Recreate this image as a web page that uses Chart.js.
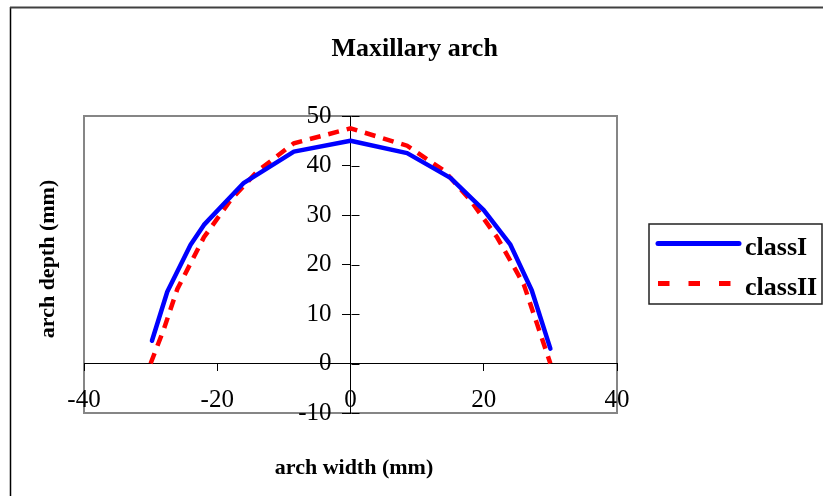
<!DOCTYPE html>
<html><head><meta charset="utf-8">
<script src="https://cdn.jsdelivr.net/npm/chart.js@4"></script>
<style>html,body{margin:0;padding:0;background:#fff}#wrap{width:823px;height:496px;position:relative}canvas{display:block}</style>
</head><body><div id="wrap"><canvas id="c" width="823" height="496"></canvas></div>
<script>
const chartTitle = 'Maxillary arch';
const xAxisTitle = 'arch width (mm)';
const yAxisTitle = 'arch depth (mm)';
const seriesNames = ['classI', 'classII'];
const classIWidth = [-29.8, -27.5, -24, -22, -16, -8.5, 0, 8.5, 15, 20, 24, 27.2, 30];
const classIDepth = [4.6, 14.5, 24, 28, 36.5, 42.8, 45, 42.5, 37.5, 31, 24, 14.8, 3];
const classIIWidth = [-30, -28, -26, -22, -18, -14, -8.5, 0, 8.5, 14, 18, 22, 26, 28, 30];
const classIIDepth = [0, 7, 15, 25.5, 33, 38.8, 44.5, 47.5, 44, 39, 33, 25.5, 16, 8, 0];
const xTickValues = [-40, -20, 0, 20, 40];
const yTickValues = [-10, 0, 10, 20, 30, 40, 50];

const toPoints = (xs, ys) => xs.map((x, i) => ({ x: x, y: ys[i] }));
const SERIF = '"Liberation Serif", "Times New Roman", serif';

const decor = {
  id: 'decor',
  beforeDraw(chart) {
    const ctx = chart.ctx, a = chart.chartArea;
    ctx.save();
    ctx.fillStyle = '#fff';
    ctx.fillRect(0, 0, chart.width, chart.height);
    // outer frame
    ctx.strokeStyle = '#000';
    ctx.lineWidth = 1.5;
    ctx.beginPath(); ctx.moveTo(10.5, 7); ctx.lineTo(10.5, chart.height); ctx.stroke();
    ctx.strokeStyle = '#404040';
    ctx.lineWidth = 2;
    ctx.beginPath(); ctx.moveTo(10, 7.5); ctx.lineTo(chart.width, 7.5); ctx.stroke();
    // plot area border
    ctx.strokeStyle = '#868686';
    ctx.lineWidth = 2;
    ctx.strokeRect(a.left, a.top, a.right - a.left, a.bottom - a.top);
    // title
    ctx.fillStyle = '#000';
    ctx.textAlign = 'center';
    ctx.textBaseline = 'alphabetic';
    ctx.font = 'bold 26px ' + SERIF;
    ctx.fillText(chartTitle, 414.7, 55.5);
    // axis titles
    ctx.font = 'bold 22px ' + SERIF;
    ctx.fillText(xAxisTitle, 354, 474);
    ctx.save();
    ctx.translate(54, 259);
    ctx.rotate(-Math.PI / 2);
    ctx.fillText(yAxisTitle, 0, 0);
    ctx.restore();
    ctx.restore();
  },
  afterDraw(chart) {
    const ctx = chart.ctx;
    const ys = chart.scales.y, xs = chart.scales.x;
    ctx.save();
    // right half of the crossing y ticks
    const ax = Math.round(xs.getPixelForValue(0)) + 0.5;
    ctx.strokeStyle = '#000';
    ctx.lineWidth = 1;
    ys.ticks.forEach(t => {
      const py = Math.round(ys.getPixelForValue(t.value)) + 0.5;
      ctx.beginPath(); ctx.moveTo(ax, py); ctx.lineTo(ax + 8, py); ctx.stroke();
    });
    // legend
    ctx.strokeStyle = '#222';
    ctx.lineWidth = 1.5;
    ctx.strokeRect(649, 224, 173, 80);
    const rows = [243.5, 283.5];
    chart.data.datasets.forEach((ds, i) => {
      const y = rows[i];
      ctx.strokeStyle = ds.borderColor;
      ctx.lineWidth = 5;
      ctx.lineCap = i === 0 ? 'round' : 'butt';
      ctx.setLineDash(i === 0 ? [] : [11.5, 19]);
      ctx.beginPath(); ctx.moveTo(i === 0 ? 658 : 658, y); ctx.lineTo(739, y); ctx.stroke();
      ctx.setLineDash([]);
      ctx.fillStyle = '#000';
      ctx.font = 'bold 26px ' + SERIF;
      ctx.textAlign = 'left';
      ctx.textBaseline = 'alphabetic';
      ctx.fillText(ds.label, 745, y + 11.5);
    });
    ctx.restore();
  }
};

new Chart(document.getElementById('c'), {
  type: 'scatter',
  data: {
    datasets: [
      {
        label: seriesNames[0],
        data: toPoints(classIWidth, classIDepth),
        showLine: true,
        borderColor: '#0000ff',
        backgroundColor: '#0000ff',
        borderWidth: 4.5,
        borderJoinStyle: 'round',
        borderCapStyle: 'round',
        pointRadius: 0,
        tension: 0
      },
      {
        label: seriesNames[1],
        data: toPoints(classIIWidth, classIIDepth),
        showLine: true,
        borderColor: '#ff0000',
        backgroundColor: '#ff0000',
        borderWidth: 4.5,
        borderDash: [11, 8],
        borderCapStyle: 'butt',
        pointRadius: 0,
        tension: 0
      }
    ]
  },
  options: {
    responsive: false,
    animation: false,
    devicePixelRatio: 1,
    layout: { padding: { left: 84, top: 116, right: 206, bottom: 83 } },
    plugins: { legend: { display: false }, title: { display: false }, tooltip: { enabled: false } },
    scales: {
      x: {
        type: 'linear',
        position: { y: 0 },
        min: -40, max: 40,
        afterBuildTicks: s => { s.ticks = xTickValues.map(v => ({ value: v })); },
        afterFit: s => { s.height = 0; s.paddingLeft = 0; s.paddingRight = 0; },
        ticks: { font: { family: SERIF, size: 25 }, color: '#000', padding: 15, maxRotation: 0, autoSkip: false, callback: v => String(v) },
        grid: { drawOnChartArea: false, drawTicks: true, tickLength: 7, color: '#000', lineWidth: 1 },
        border: { display: true, color: '#000', width: 1 }
      },
      y: {
        type: 'linear',
        position: 'center',
        min: -10, max: 50,
        afterBuildTicks: s => { s.ticks = yTickValues.map(v => ({ value: v })); },
        afterFit: s => { s.width = 0; s.paddingTop = 0; s.paddingBottom = 0; },
        ticks: { font: { family: SERIF, size: 25 }, color: '#000', padding: 11, autoSkip: false, callback: v => String(v) },
        grid: { drawOnChartArea: false, drawTicks: true, tickLength: 8, color: '#000', lineWidth: 1 },
        border: { display: true, color: '#000', width: 1 }
      }
    }
  },
  plugins: [decor]
});
</script>
</body></html>
